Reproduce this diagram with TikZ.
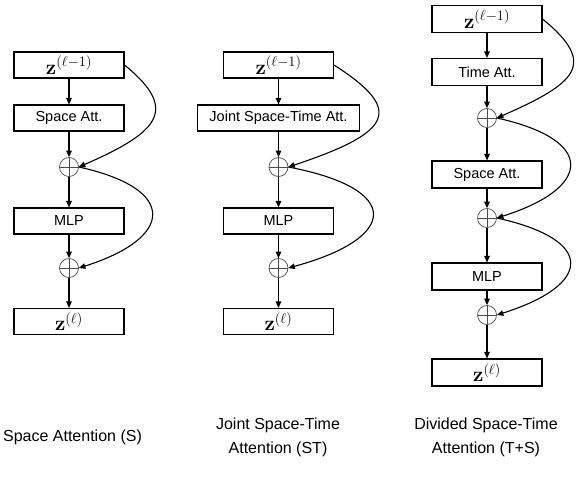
\documentclass[tikz,border=0pt]{standalone}
\usepackage[no-math]{fontspec}
\setmainfont{Liberation Sans}
\usetikzlibrary{arrows.meta}

\begin{document}
\begin{tikzpicture}[x=1pt,y=-1pt,
  blk/.style={draw, line width=1.1pt, minimum width=110pt, minimum height=26pt,
    inner sep=0pt, font=\fontsize{14.5}{16}\selectfont},
  zblk/.style={blk, font=\fontsize{20}{22}\selectfont},
  sumnode/.style={circle, draw=black!70, line width=0.7pt, minimum size=19pt,
    inner sep=0pt, path picture={
      \draw[black!70, line width=0.7pt]
        (path picture bounding box.north) -- (path picture bounding box.south)
        (path picture bounding box.west) -- (path picture bounding box.east);}},
  flow/.style={line width=1.1pt, -{Triangle[length=6.5pt,width=5.5pt]}},
  capt/.style={align=center, font=\fontsize{16}{24}\selectfont}
]
\useasboundingbox[fill=white] (0,0) rectangle (577,490);

% ---- Space attention (S) ----
\node[zblk] (a0) at (69,65)    {$\mathbf{z}^{(\ell-1)}$};
\node[blk]  (a1) at (69,118)   {Space Att.};
\node[sumnode] (as1) at (69,167) {};
\node[blk]  (a2) at (69,221)   {MLP};
\node[sumnode] (as2) at (69,268) {};
\node[zblk] (a3) at (69,321.5) {$\mathbf{z}^{(\ell)}$};

\draw[flow] (a0) -- (a1);
\draw[flow] (a1) -- (as1.north);
\draw[flow] (as1.south) -- (a2);
\draw[flow] (a2) -- (as2.north);
\draw[flow] (as2.south) -- (a3);
\draw[flow] (a0.east) .. controls +(55,45) and +(80,-35) .. (as1.east);
\draw[flow] (as1.east) .. controls +(100,22) and +(95,-30) .. (as2.east);

% ---- Joint space-time attention (ST) ----
\node[zblk] (j0) at (278.5,65)    {$\mathbf{z}^{(\ell-1)}$};
\node[blk, minimum width=162pt] (j1) at (278.5,118) {Joint Space-Time Att.};
\node[sumnode] (js1) at (278.5,167) {};
\node[blk]  (j2) at (278.5,221)   {MLP};
\node[sumnode] (js2) at (278.5,268) {};
\node[zblk] (j3) at (278.5,321.5) {$\mathbf{z}^{(\ell)}$};

\draw[flow] (j0) -- (j1);
\draw[flow] (j1) -- (js1.north);
\draw[flow] (js1.south) -- (j2);
\draw[flow] (j2) -- (js2.north);
\draw[flow] (js2.south) -- (j3);
\draw[flow] (j0.east) .. controls +(70,45) and +(105,-35) .. (js1.east);
\draw[flow] (js1.east) .. controls +(115,22) and +(110,-30) .. (js2.east);

% ---- Divided space-time attention (T+S) ----
\node[zblk, minimum height=27pt] (d0) at (487,19)    {$\mathbf{z}^{(\ell-1)}$};
\node[blk,  minimum height=27pt] (d1) at (487,72)    {Time Att.};
\node[sumnode] (ds1) at (487,118) {};
\node[blk,  minimum height=27pt] (d2) at (487,174.5) {Space Att.};
\node[sumnode] (ds2) at (487,218) {};
\node[blk,  minimum height=27pt] (d3) at (487,276.5) {MLP};
\node[sumnode] (ds3) at (487,315) {};
\node[zblk, minimum height=27pt] (d4) at (487,372.5) {$\mathbf{z}^{(\ell)}$};

\draw[flow] (d0) -- (d1);
\draw[flow] (d1) -- (ds1.north);
\draw[flow] (ds1.south) -- (d2);
\draw[flow] (d2) -- (ds2.north);
\draw[flow] (ds2.south) -- (d3);
\draw[flow] (d3) -- (ds3.north);
\draw[flow] (ds3.south) -- (d4);
\draw[flow] (d0.east) .. controls +(55,45) and +(80,-35) .. (ds1.east);
\draw[flow] (ds1.east) .. controls +(100,22) and +(95,-30) .. (ds2.east);
\draw[flow] (ds2.east) .. controls +(100,22) and +(95,-30) .. (ds3.east);

% ---- captions ----
\node[capt] (capS)  at (72.5,437) {Space Attention (S)};
\node[capt] (capST) at (278,437)  {Joint Space-Time\\Attention (ST)};
\node[capt] (capTS) at (486,437)  {Divided Space-Time\\Attention (T+S)};
\end{tikzpicture}
\end{document}
